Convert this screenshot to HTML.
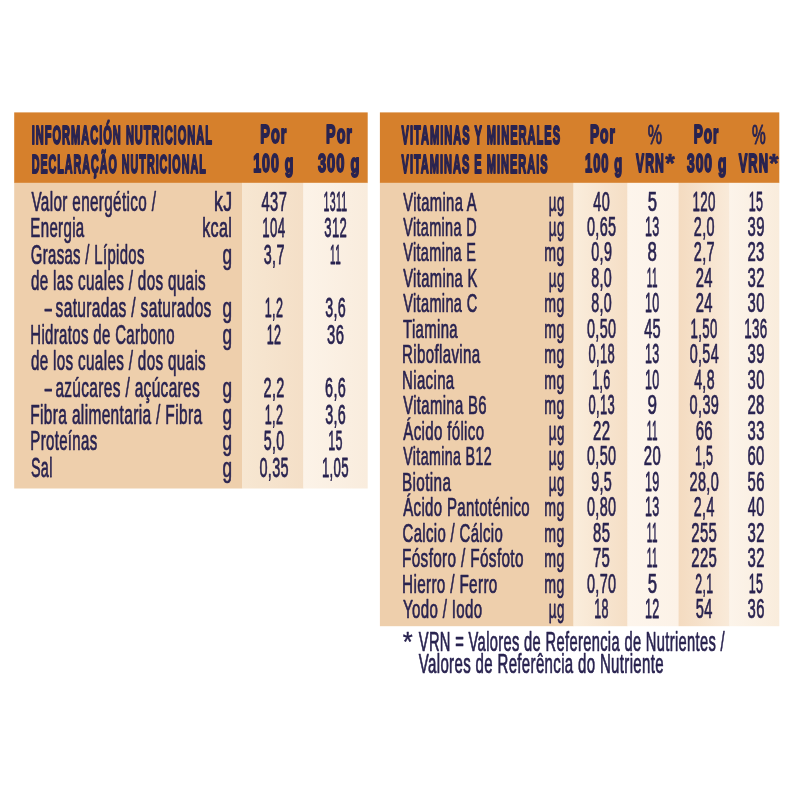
<!DOCTYPE html>
<html lang="es"><head><meta charset="utf-8"><title>Información nutricional</title>
<style>
html,body{margin:0;padding:0;background:#fff}
#root{position:relative;width:800px;height:800px;overflow:hidden;background:#fff;font-family:"Liberation Sans",sans-serif}
svg{position:absolute;left:0;top:0}
svg text{font-family:"Liberation Sans",sans-serif;fill:#292350;stroke:#292350;vector-effect:non-scaling-stroke;stroke-linejoin:round}
</style></head><body>
<div id="root">
<svg width="800" height="800" viewBox="0 0 800 800">
<defs>
<linearGradient id="g0" x1="0" y1="0" x2="1" y2="0"><stop offset="0" stop-color="#f7e7d2"/><stop offset="1" stop-color="#f4dfc7"/></linearGradient>
<linearGradient id="g1" x1="0" y1="0" x2="1" y2="0"><stop offset="0" stop-color="#fcf3e8"/><stop offset="1" stop-color="#f9ecdd"/></linearGradient>
<linearGradient id="g2" x1="0" y1="0" x2="1" y2="0"><stop offset="0" stop-color="#faeddc"/><stop offset="1" stop-color="#f5dec5"/></linearGradient>
<linearGradient id="g3" x1="0" y1="0" x2="1" y2="0"><stop offset="0" stop-color="#fdf5ec"/><stop offset="1" stop-color="#fcf2e7"/></linearGradient>
<linearGradient id="g4" x1="0" y1="0" x2="1" y2="0"><stop offset="0" stop-color="#f4dbc0"/><stop offset="1" stop-color="#f9ead9"/></linearGradient>
<linearGradient id="g5" x1="0" y1="0" x2="1" y2="0"><stop offset="0" stop-color="#fcf4ea"/><stop offset="1" stop-color="#f9ecdc"/></linearGradient>
</defs>
<g stroke="none">
<rect x="14.2" y="112.4" width="353.5" height="70.7" fill="#d6802c"/>
<rect x="14.2" y="182.8" width="228.0" height="305.7" fill="#eecfac"/>
<rect x="242" y="182.8" width="61.6" height="305.7" fill="url(#g0)"/>
<rect x="303.4" y="182.8" width="64.3" height="305.7" fill="url(#g1)"/>
<rect x="379.9" y="112.4" width="399.4" height="70.7" fill="#d6802c"/>
<rect x="379.9" y="182.8" width="193.8" height="443.4" fill="#eecfac"/>
<rect x="573.5" y="182.8" width="54.2" height="443.4" fill="url(#g2)"/>
<rect x="627.5" y="182.8" width="51.2" height="443.4" fill="url(#g3)"/>
<rect x="678.5" y="182.8" width="51.2" height="443.4" fill="url(#g4)"/>
<rect x="729.5" y="182.8" width="49.8" height="443.4" fill="url(#g5)"/>
</g>
<text transform="translate(31.45,210.50) scale(0.5533,1)" font-size="27.6" stroke-width="0.6" letter-spacing="0.63">Valor energético /</text>
<text transform="translate(214.06,210.50) scale(0.6446,1)" font-size="27.6" stroke-width="0.6" letter-spacing="0.54">kJ</text>
<text transform="translate(261.56,210.50) scale(0.5333,1)" font-size="27.6" stroke-width="0.6" letter-spacing="0.66">437</text>
<text transform="translate(323.49,210.50) scale(0.3823,1)" font-size="27.6" stroke-width="0.6" letter-spacing="0.92">1311</text>
<text transform="translate(30.30,237.14) scale(0.5446,1)" font-size="27.6" stroke-width="0.6" letter-spacing="0.64">Energia</text>
<text transform="translate(202.17,237.14) scale(0.5853,1)" font-size="27.6" stroke-width="0.6" letter-spacing="0.60">kcal</text>
<text transform="translate(262.28,237.14) scale(0.4797,1)" font-size="27.6" stroke-width="0.6" letter-spacing="0.73">104</text>
<text transform="translate(324.28,237.14) scale(0.4747,1)" font-size="27.6" stroke-width="0.6" letter-spacing="0.74">312</text>
<text transform="translate(30.81,263.78) scale(0.5397,1)" font-size="27.6" stroke-width="0.6" letter-spacing="0.65">Grasas / Lípidos</text>
<text transform="translate(222.51,263.78) scale(0.6205,1)" font-size="27.6" stroke-width="0.6">g</text>
<text transform="translate(263.72,263.78) scale(0.5212,1)" font-size="27.6" stroke-width="0.6" letter-spacing="0.67">3,7</text>
<text transform="translate(330.04,263.78) scale(0.3590,1)" font-size="27.6" stroke-width="0.6" letter-spacing="0.97">11</text>
<text transform="translate(30.89,290.42) scale(0.5508,1)" font-size="27.6" stroke-width="0.6" letter-spacing="0.64">de las cuales / dos quais</text>
<text transform="translate(44.80,317.06) scale(0.4621,1)" font-size="27.6" stroke-width="0.6">–</text>
<text transform="translate(55.59,317.06) scale(0.5611,1)" font-size="27.6" stroke-width="0.6" letter-spacing="0.62">saturadas / saturados</text>
<text transform="translate(222.51,317.06) scale(0.6205,1)" font-size="27.6" stroke-width="0.6">g</text>
<text transform="translate(264.74,317.06) scale(0.4560,1)" font-size="27.6" stroke-width="0.6" letter-spacing="0.77">1,2</text>
<text transform="translate(325.23,317.06) scale(0.5185,1)" font-size="27.6" stroke-width="0.6" letter-spacing="0.67">3,6</text>
<text transform="translate(30.30,343.70) scale(0.5419,1)" font-size="27.6" stroke-width="0.6" letter-spacing="0.65">Hidratos de Carbono</text>
<text transform="translate(222.51,343.70) scale(0.6205,1)" font-size="27.6" stroke-width="0.6">g</text>
<text transform="translate(266.63,343.70) scale(0.4572,1)" font-size="27.6" stroke-width="0.6" letter-spacing="0.77">12</text>
<text transform="translate(327.11,343.70) scale(0.5364,1)" font-size="27.6" stroke-width="0.6" letter-spacing="0.65">36</text>
<text transform="translate(30.89,370.34) scale(0.5508,1)" font-size="27.6" stroke-width="0.6" letter-spacing="0.64">de los cuales / dos quais</text>
<text transform="translate(44.80,396.98) scale(0.4621,1)" font-size="27.6" stroke-width="0.6">–</text>
<text transform="translate(55.38,396.98) scale(0.5590,1)" font-size="27.6" stroke-width="0.6" letter-spacing="0.63">azúcares / açúcares</text>
<text transform="translate(222.51,396.98) scale(0.6205,1)" font-size="27.6" stroke-width="0.6">g</text>
<text transform="translate(263.58,396.98) scale(0.5252,1)" font-size="27.6" stroke-width="0.6" letter-spacing="0.67">2,2</text>
<text transform="translate(325.08,396.98) scale(0.5225,1)" font-size="27.6" stroke-width="0.6" letter-spacing="0.67">6,6</text>
<text transform="translate(30.26,423.62) scale(0.5611,1)" font-size="27.6" stroke-width="0.6" letter-spacing="0.62">Fibra alimentaria / Fibra</text>
<text transform="translate(222.51,423.62) scale(0.6205,1)" font-size="27.6" stroke-width="0.6">g</text>
<text transform="translate(264.74,423.62) scale(0.4560,1)" font-size="27.6" stroke-width="0.6" letter-spacing="0.77">1,2</text>
<text transform="translate(325.23,423.62) scale(0.5185,1)" font-size="27.6" stroke-width="0.6" letter-spacing="0.67">3,6</text>
<text transform="translate(30.30,450.26) scale(0.5430,1)" font-size="27.6" stroke-width="0.6" letter-spacing="0.64">Proteínas</text>
<text transform="translate(222.51,450.26) scale(0.6205,1)" font-size="27.6" stroke-width="0.6">g</text>
<text transform="translate(263.73,450.26) scale(0.5172,1)" font-size="27.6" stroke-width="0.6" letter-spacing="0.68">5,0</text>
<text transform="translate(328.14,450.26) scale(0.4541,1)" font-size="27.6" stroke-width="0.6" letter-spacing="0.77">15</text>
<text transform="translate(30.88,476.90) scale(0.5217,1)" font-size="27.6" stroke-width="0.6" letter-spacing="0.67">Sal</text>
<text transform="translate(222.51,476.90) scale(0.6205,1)" font-size="27.6" stroke-width="0.6">g</text>
<text transform="translate(259.42,476.90) scale(0.5240,1)" font-size="27.6" stroke-width="0.6" letter-spacing="0.67">0,35</text>
<text transform="translate(321.89,476.90) scale(0.4790,1)" font-size="27.6" stroke-width="0.6" letter-spacing="0.73">1,05</text>
<text transform="translate(31.66,143.60) scale(0.4317,1)" font-size="25.6" font-weight="700" fill="#28215c" stroke="#28215c" stroke-width="1.6" letter-spacing="2.32">INFORMACIÓN NUTRICIONAL</text>
<text transform="translate(31.69,172.60) scale(0.4189,1)" font-size="25.6" font-weight="700" fill="#28215c" stroke="#28215c" stroke-width="1.6" letter-spacing="2.39">DECLARAÇÃO NUTRICIONAL</text>
<text transform="translate(260.34,143.40) scale(0.5650,1)" font-size="25.6" font-weight="700" fill="#28215c" stroke="#28215c" stroke-width="1.6" letter-spacing="1.77">Por</text>
<text transform="translate(253.20,172.20) scale(0.5537,1)" font-size="25.6" font-weight="700" fill="#28215c" stroke="#28215c" stroke-width="1.6" letter-spacing="1.81">100 g</text>
<text transform="translate(326.10,143.40) scale(0.5588,1)" font-size="25.6" font-weight="700" fill="#28215c" stroke="#28215c" stroke-width="1.6" letter-spacing="1.79">Por</text>
<text transform="translate(317.96,172.20) scale(0.5725,1)" font-size="25.6" font-weight="700" fill="#28215c" stroke="#28215c" stroke-width="1.6" letter-spacing="1.75">300 g</text>
<text transform="translate(403.20,210.50) scale(0.5598,1)" font-size="26.4" stroke-width="0.6" letter-spacing="0.63">Vitamina A</text>
<text transform="translate(548.87,210.50) scale(0.5055,1)" font-size="26.4" stroke-width="0.6" letter-spacing="0.69">µg</text>
<text transform="translate(593.36,210.50) scale(0.5379,1)" font-size="27" stroke-width="0.6" letter-spacing="0.65">40</text>
<text transform="translate(647.68,210.50) scale(0.6182,1)" font-size="27" stroke-width="0.6">5</text>
<text transform="translate(692.48,210.50) scale(0.4936,1)" font-size="27" stroke-width="0.6" letter-spacing="0.71">120</text>
<text transform="translate(748.64,210.50) scale(0.4642,1)" font-size="27" stroke-width="0.6" letter-spacing="0.75">15</text>
<text transform="translate(403.20,235.97) scale(0.5466,1)" font-size="26.4" stroke-width="0.6" letter-spacing="0.64">Vitamina D</text>
<text transform="translate(548.87,235.97) scale(0.5055,1)" font-size="26.4" stroke-width="0.6" letter-spacing="0.69">µg</text>
<text transform="translate(586.92,235.97) scale(0.5357,1)" font-size="27" stroke-width="0.6" letter-spacing="0.65">0,65</text>
<text transform="translate(644.94,235.97) scale(0.4642,1)" font-size="27" stroke-width="0.6" letter-spacing="0.75">13</text>
<text transform="translate(693.78,235.97) scale(0.5328,1)" font-size="27" stroke-width="0.6" letter-spacing="0.66">2,0</text>
<text transform="translate(747.61,235.97) scale(0.5501,1)" font-size="27" stroke-width="0.6" letter-spacing="0.64">39</text>
<text transform="translate(403.20,261.44) scale(0.5483,1)" font-size="26.4" stroke-width="0.6" letter-spacing="0.64">Vitamina E</text>
<text transform="translate(544.36,261.44) scale(0.5365,1)" font-size="26.4" stroke-width="0.6" letter-spacing="0.65">mg</text>
<text transform="translate(591.23,261.44) scale(0.5314,1)" font-size="27" stroke-width="0.6" letter-spacing="0.66">0,9</text>
<text transform="translate(647.62,261.44) scale(0.6225,1)" font-size="27" stroke-width="0.6">8</text>
<text transform="translate(693.78,261.44) scale(0.5369,1)" font-size="27" stroke-width="0.6" letter-spacing="0.65">2,7</text>
<text transform="translate(747.45,261.44) scale(0.5537,1)" font-size="27" stroke-width="0.6" letter-spacing="0.63">23</text>
<text transform="translate(403.20,286.91) scale(0.5587,1)" font-size="26.4" stroke-width="0.6" letter-spacing="0.63">Vitamina K</text>
<text transform="translate(548.87,286.91) scale(0.5055,1)" font-size="26.4" stroke-width="0.6" letter-spacing="0.69">µg</text>
<text transform="translate(591.18,286.91) scale(0.5300,1)" font-size="27" stroke-width="0.6" letter-spacing="0.66">8,0</text>
<text transform="translate(646.84,286.91) scale(0.3670,1)" font-size="27" stroke-width="0.6" letter-spacing="0.95">11</text>
<text transform="translate(695.66,286.91) scale(0.5466,1)" font-size="27" stroke-width="0.6" letter-spacing="0.64">24</text>
<text transform="translate(747.60,286.91) scale(0.5519,1)" font-size="27" stroke-width="0.6" letter-spacing="0.63">32</text>
<text transform="translate(403.20,312.38) scale(0.5513,1)" font-size="26.4" stroke-width="0.6" letter-spacing="0.63">Vitamina C</text>
<text transform="translate(544.36,312.38) scale(0.5365,1)" font-size="26.4" stroke-width="0.6" letter-spacing="0.65">mg</text>
<text transform="translate(591.18,312.38) scale(0.5300,1)" font-size="27" stroke-width="0.6" letter-spacing="0.66">8,0</text>
<text transform="translate(644.94,312.38) scale(0.4627,1)" font-size="27" stroke-width="0.6" letter-spacing="0.76">10</text>
<text transform="translate(695.66,312.38) scale(0.5466,1)" font-size="27" stroke-width="0.6" letter-spacing="0.64">24</text>
<text transform="translate(747.61,312.38) scale(0.5466,1)" font-size="27" stroke-width="0.6" letter-spacing="0.64">30</text>
<text transform="translate(402.95,337.85) scale(0.5666,1)" font-size="26.4" stroke-width="0.6" letter-spacing="0.62">Tiamina</text>
<text transform="translate(544.36,337.85) scale(0.5365,1)" font-size="26.4" stroke-width="0.6" letter-spacing="0.65">mg</text>
<text transform="translate(586.92,337.85) scale(0.5347,1)" font-size="27" stroke-width="0.6" letter-spacing="0.65">0,50</text>
<text transform="translate(644.16,337.85) scale(0.5396,1)" font-size="27" stroke-width="0.6" letter-spacing="0.65">45</text>
<text transform="translate(690.59,337.85) scale(0.4888,1)" font-size="27" stroke-width="0.6" letter-spacing="0.72">1,50</text>
<text transform="translate(744.28,337.85) scale(0.4946,1)" font-size="27" stroke-width="0.6" letter-spacing="0.71">136</text>
<text transform="translate(402.04,363.32) scale(0.5717,1)" font-size="26.4" stroke-width="0.6" letter-spacing="0.61">Riboflavina</text>
<text transform="translate(544.36,363.32) scale(0.5365,1)" font-size="26.4" stroke-width="0.6" letter-spacing="0.65">mg</text>
<text transform="translate(588.38,363.32) scale(0.4800,1)" font-size="27" stroke-width="0.6" letter-spacing="0.73">0,18</text>
<text transform="translate(644.94,363.32) scale(0.4642,1)" font-size="27" stroke-width="0.6" letter-spacing="0.75">13</text>
<text transform="translate(689.63,363.32) scale(0.5319,1)" font-size="27" stroke-width="0.6" letter-spacing="0.66">0,54</text>
<text transform="translate(747.61,363.32) scale(0.5501,1)" font-size="27" stroke-width="0.6" letter-spacing="0.64">39</text>
<text transform="translate(402.05,388.79) scale(0.5682,1)" font-size="26.4" stroke-width="0.6" letter-spacing="0.62">Niacina</text>
<text transform="translate(544.36,388.79) scale(0.5365,1)" font-size="26.4" stroke-width="0.6" letter-spacing="0.65">mg</text>
<text transform="translate(592.24,388.79) scale(0.4637,1)" font-size="27" stroke-width="0.6" letter-spacing="0.75">1,6</text>
<text transform="translate(644.94,388.79) scale(0.4627,1)" font-size="27" stroke-width="0.6" letter-spacing="0.76">10</text>
<text transform="translate(694.17,388.79) scale(0.5234,1)" font-size="27" stroke-width="0.6" letter-spacing="0.67">4,8</text>
<text transform="translate(747.61,388.79) scale(0.5466,1)" font-size="27" stroke-width="0.6" letter-spacing="0.64">30</text>
<text transform="translate(403.20,414.26) scale(0.5632,1)" font-size="26.4" stroke-width="0.6" letter-spacing="0.62">Vitamina B6</text>
<text transform="translate(544.36,414.26) scale(0.5365,1)" font-size="26.4" stroke-width="0.6" letter-spacing="0.65">mg</text>
<text transform="translate(588.38,414.26) scale(0.4800,1)" font-size="27" stroke-width="0.6" letter-spacing="0.73">0,13</text>
<text transform="translate(647.55,414.26) scale(0.6315,1)" font-size="27" stroke-width="0.6">9</text>
<text transform="translate(689.62,414.26) scale(0.5366,1)" font-size="27" stroke-width="0.6" letter-spacing="0.65">0,39</text>
<text transform="translate(747.45,414.26) scale(0.5537,1)" font-size="27" stroke-width="0.6" letter-spacing="0.63">28</text>
<text transform="translate(403.25,439.73) scale(0.5704,1)" font-size="26.4" stroke-width="0.6" letter-spacing="0.61">Ácido fólico</text>
<text transform="translate(548.87,439.73) scale(0.5055,1)" font-size="26.4" stroke-width="0.6" letter-spacing="0.69">µg</text>
<text transform="translate(592.95,439.73) scale(0.5574,1)" font-size="27" stroke-width="0.6" letter-spacing="0.63">22</text>
<text transform="translate(646.84,439.73) scale(0.3670,1)" font-size="27" stroke-width="0.6" letter-spacing="0.95">11</text>
<text transform="translate(695.65,439.73) scale(0.5537,1)" font-size="27" stroke-width="0.6" letter-spacing="0.63">66</text>
<text transform="translate(747.61,439.73) scale(0.5484,1)" font-size="27" stroke-width="0.6" letter-spacing="0.64">33</text>
<text transform="translate(403.20,465.20) scale(0.5404,1)" font-size="26.4" stroke-width="0.6" letter-spacing="0.65">Vitamina B12</text>
<text transform="translate(548.87,465.20) scale(0.5055,1)" font-size="26.4" stroke-width="0.6" letter-spacing="0.69">µg</text>
<text transform="translate(586.92,465.20) scale(0.5347,1)" font-size="27" stroke-width="0.6" letter-spacing="0.65">0,50</text>
<text transform="translate(643.75,465.20) scale(0.5519,1)" font-size="27" stroke-width="0.6" letter-spacing="0.63">20</text>
<text transform="translate(694.94,465.20) scale(0.4637,1)" font-size="27" stroke-width="0.6" letter-spacing="0.75">1,5</text>
<text transform="translate(747.45,465.20) scale(0.5519,1)" font-size="27" stroke-width="0.6" letter-spacing="0.63">60</text>
<text transform="translate(402.02,490.67) scale(0.5803,1)" font-size="26.4" stroke-width="0.6" letter-spacing="0.60">Biotina</text>
<text transform="translate(548.87,490.67) scale(0.5055,1)" font-size="26.4" stroke-width="0.6" letter-spacing="0.69">µg</text>
<text transform="translate(591.13,490.67) scale(0.5328,1)" font-size="27" stroke-width="0.6" letter-spacing="0.66">9,5</text>
<text transform="translate(644.94,490.67) scale(0.4658,1)" font-size="27" stroke-width="0.6" letter-spacing="0.75">19</text>
<text transform="translate(689.47,490.67) scale(0.5376,1)" font-size="27" stroke-width="0.6" letter-spacing="0.65">28,0</text>
<text transform="translate(747.61,490.67) scale(0.5484,1)" font-size="27" stroke-width="0.6" letter-spacing="0.64">56</text>
<text transform="translate(403.25,516.14) scale(0.5675,1)" font-size="26.4" stroke-width="0.6" letter-spacing="0.62">Ácido Pantoténico</text>
<text transform="translate(544.36,516.14) scale(0.5365,1)" font-size="26.4" stroke-width="0.6" letter-spacing="0.65">mg</text>
<text transform="translate(586.92,516.14) scale(0.5347,1)" font-size="27" stroke-width="0.6" letter-spacing="0.65">0,80</text>
<text transform="translate(644.94,516.14) scale(0.4642,1)" font-size="27" stroke-width="0.6" letter-spacing="0.75">13</text>
<text transform="translate(693.79,516.14) scale(0.5287,1)" font-size="27" stroke-width="0.6" letter-spacing="0.66">2,4</text>
<text transform="translate(747.86,516.14) scale(0.5379,1)" font-size="27" stroke-width="0.6" letter-spacing="0.65">40</text>
<text transform="translate(402.55,541.61) scale(0.5652,1)" font-size="26.4" stroke-width="0.6" letter-spacing="0.62">Calcio / Cálcio</text>
<text transform="translate(544.36,541.61) scale(0.5365,1)" font-size="26.4" stroke-width="0.6" letter-spacing="0.65">mg</text>
<text transform="translate(593.06,541.61) scale(0.5501,1)" font-size="27" stroke-width="0.6" letter-spacing="0.64">85</text>
<text transform="translate(646.84,541.61) scale(0.3670,1)" font-size="27" stroke-width="0.6" letter-spacing="0.95">11</text>
<text transform="translate(691.35,541.61) scale(0.5520,1)" font-size="27" stroke-width="0.6" letter-spacing="0.63">255</text>
<text transform="translate(747.60,541.61) scale(0.5519,1)" font-size="27" stroke-width="0.6" letter-spacing="0.63">32</text>
<text transform="translate(402.02,567.08) scale(0.5812,1)" font-size="26.4" stroke-width="0.6" letter-spacing="0.60">Fósforo / Fósfoto</text>
<text transform="translate(544.36,567.08) scale(0.5365,1)" font-size="26.4" stroke-width="0.6" letter-spacing="0.65">mg</text>
<text transform="translate(592.95,567.08) scale(0.5537,1)" font-size="27" stroke-width="0.6" letter-spacing="0.63">75</text>
<text transform="translate(646.84,567.08) scale(0.3670,1)" font-size="27" stroke-width="0.6" letter-spacing="0.95">11</text>
<text transform="translate(691.35,567.08) scale(0.5520,1)" font-size="27" stroke-width="0.6" letter-spacing="0.63">225</text>
<text transform="translate(747.60,567.08) scale(0.5519,1)" font-size="27" stroke-width="0.6" letter-spacing="0.63">32</text>
<text transform="translate(402.03,592.55) scale(0.5783,1)" font-size="26.4" stroke-width="0.6" letter-spacing="0.61">Hierro / Ferro</text>
<text transform="translate(544.36,592.55) scale(0.5365,1)" font-size="26.4" stroke-width="0.6" letter-spacing="0.65">mg</text>
<text transform="translate(586.92,592.55) scale(0.5347,1)" font-size="27" stroke-width="0.6" letter-spacing="0.65">0,70</text>
<text transform="translate(647.68,592.55) scale(0.6182,1)" font-size="27" stroke-width="0.6">5</text>
<text transform="translate(695.28,592.55) scale(0.4565,1)" font-size="27" stroke-width="0.6" letter-spacing="0.77">2,1</text>
<text transform="translate(748.64,592.55) scale(0.4642,1)" font-size="27" stroke-width="0.6" letter-spacing="0.75">15</text>
<text transform="translate(402.95,618.02) scale(0.5705,1)" font-size="26.4" stroke-width="0.6" letter-spacing="0.61">Yodo / Iodo</text>
<text transform="translate(548.87,618.02) scale(0.5055,1)" font-size="26.4" stroke-width="0.6" letter-spacing="0.69">µg</text>
<text transform="translate(594.14,618.02) scale(0.4642,1)" font-size="27" stroke-width="0.6" letter-spacing="0.75">18</text>
<text transform="translate(644.93,618.02) scale(0.4673,1)" font-size="27" stroke-width="0.6" letter-spacing="0.75">12</text>
<text transform="translate(695.82,618.02) scale(0.5414,1)" font-size="27" stroke-width="0.6" letter-spacing="0.65">54</text>
<text transform="translate(747.61,618.02) scale(0.5484,1)" font-size="27" stroke-width="0.6" letter-spacing="0.64">36</text>
<text transform="translate(401.53,143.60) scale(0.4332,1)" font-size="25.6" font-weight="700" fill="#28215c" stroke="#28215c" stroke-width="1.6" letter-spacing="2.31">VITAMINAS Y MINERALES</text>
<text transform="translate(401.53,172.60) scale(0.4304,1)" font-size="25.6" font-weight="700" fill="#28215c" stroke="#28215c" stroke-width="1.6" letter-spacing="2.32">VITAMINAS E MINERAIS</text>
<text transform="translate(589.88,143.40) scale(0.5403,1)" font-size="25.6" font-weight="700" fill="#28215c" stroke="#28215c" stroke-width="1.6" letter-spacing="1.85">Por</text>
<text transform="translate(584.98,172.20) scale(0.5055,1)" font-size="25.6" font-weight="700" fill="#28215c" stroke="#28215c" stroke-width="1.6" letter-spacing="1.98">100 g</text>
<text transform="translate(647.86,143.50) scale(0.5628,1)" font-size="28.5" stroke-width="0.9">%</text>
<text transform="translate(636.02,172.20) scale(0.4757,1)" font-size="25.6" font-weight="700" fill="#28215c" stroke="#28215c" stroke-width="1.6" letter-spacing="2.10">VRN</text>
<text transform="translate(665.22,172.40) scale(0.9579,1)" font-size="25.6" font-weight="700" fill="#28215c" stroke="#28215c" stroke-width="0.6">*</text>
<text transform="translate(693.64,143.40) scale(0.5341,1)" font-size="25.6" font-weight="700" fill="#28215c" stroke="#28215c" stroke-width="1.6" letter-spacing="1.87">Por</text>
<text transform="translate(686.98,172.20) scale(0.5408,1)" font-size="25.6" font-weight="700" fill="#28215c" stroke="#28215c" stroke-width="1.6" letter-spacing="1.85">300 g</text>
<text transform="translate(751.88,143.50) scale(0.5414,1)" font-size="28.5" stroke-width="0.9">%</text>
<text transform="translate(738.71,172.20) scale(0.5063,1)" font-size="25.6" font-weight="700" fill="#28215c" stroke="#28215c" stroke-width="1.6" letter-spacing="1.97">VRN</text>
<text transform="translate(769.22,172.40) scale(0.9273,1)" font-size="25.6" font-weight="700" fill="#28215c" stroke="#28215c" stroke-width="0.6">*</text>
<text transform="translate(402.67,651.20) scale(0.9450,1)" font-size="27" fill="#2e3260" stroke="#2e3260" stroke-width="0.4">*</text>
<text transform="translate(418.80,651.20) scale(0.5315,1)" font-size="27.6" fill="#2e3260" stroke="#2e3260" stroke-width="0.6" letter-spacing="0.66">VRN = Valores de Referencia de Nutrientes /</text>
<text transform="translate(418.80,672.90) scale(0.5442,1)" font-size="27.6" fill="#2e3260" stroke="#2e3260" stroke-width="0.6" letter-spacing="0.64">Valores de Referência do Nutriente</text>
</svg>
</div>
</body></html>
